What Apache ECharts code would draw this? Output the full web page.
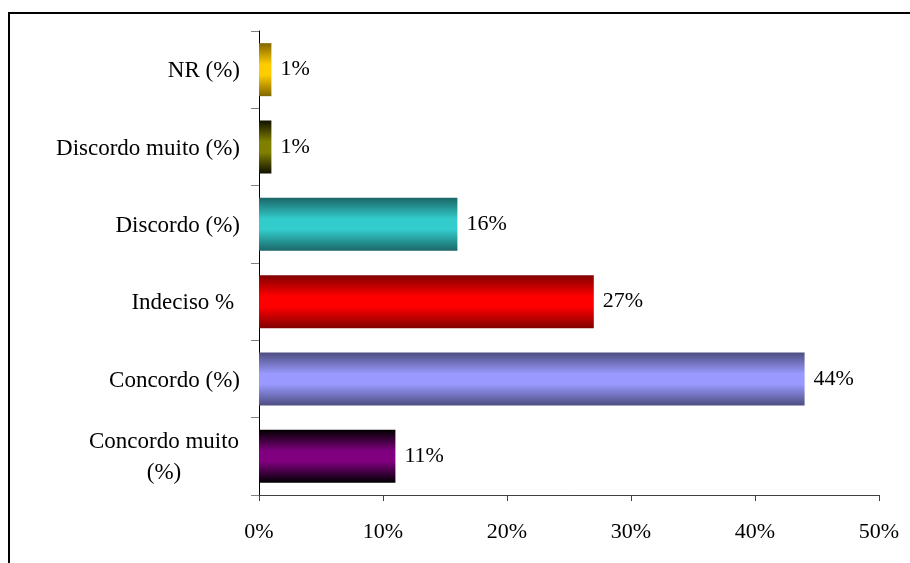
<!DOCTYPE html>
<html><head><meta charset="utf-8">
<script src="https://cdn.jsdelivr.net/npm/echarts@6/dist/echarts.min.js"></script>
<style>html,body{margin:0;padding:0;background:#fff}#c{width:910px;height:563px}</style>
</head><body><div id="c"></div>
<script>
const categories = ['Concordo muito\n(%)', 'Concordo (%)', 'Indeciso % ', 'Discordo (%)', 'Discordo muito (%)', 'NR (%)'];
const values = [11, 44, 27, 16, 1, 1];
const midColors = ['#800080', '#9999FF', '#FF0000', '#33CCCC', '#808000', '#FFCC00'];
const edgeColors = ['#000000', '#4D4D80', '#800000', '#1A6666', '#101000', '#806600'];
const xTicks = [0, 10, 20, 30, 40, 50];

function grad(i) {
  return new echarts.graphic.LinearGradient(0, 0, 0, 1, [
    {offset: 0, color: edgeColors[i]},
    {offset: 0.4, color: midColors[i]},
    {offset: 0.6, color: midColors[i]},
    {offset: 1, color: edgeColors[i]}
  ]);
}
const chart = echarts.init(document.getElementById('c'));
const font = '"Liberation Serif", "Times New Roman", serif';
chart.setOption({
  animation: false,
  backgroundColor: '#fff',
  textStyle: {fontFamily: font},
  graphic: [{type: 'rect', shape: {x: 9, y: 13, width: 1000, height: 1000}, style: {fill: 'none', stroke: '#000', lineWidth: 2}, z: 100}],
  grid: {left: 259, top: 31, right: 31, bottom: 68},
  xAxis: {
    type: 'value', min: xTicks[0], max: xTicks[xTicks.length - 1], interval: 10,
    axisLine: {show: true, lineStyle: {color: '#404040', width: 1}},
    axisTick: {show: true, length: 6, lineStyle: {color: '#404040'}},
    splitLine: {show: false},
    axisLabel: {formatter: v => v + '%', fontFamily: font, fontSize: 22, color: '#000', margin: 26}
  },
  yAxis: {
    type: 'category', data: categories,
    axisLine: {show: true, lineStyle: {color: '#000', width: 1}},
    axisTick: {show: true, length: 8, lineStyle: {color: '#808080'}},
    axisLabel: {
      fontFamily: font, fontSize: 23, color: '#000', margin: 19, lineHeight: 31, align: 'right', padding: [3, 0, 0, 0],
      formatter: v => v.indexOf('\n') >= 0 ? v.split('\n').map(s => '{c|' + s + '}').join('\n') : v,
      rich: {c: {fontFamily: font, fontSize: 23, color: '#000', lineHeight: 31, width: 152, align: 'center'}}
    }
  },
  series: [{
    type: 'bar',
    barWidth: 53,
    data: values.map((v, i) => ({value: v, itemStyle: {color: grad(i)}})),
    label: {show: true, position: 'right', distance: 9, formatter: p => p.value + '%', fontFamily: font, fontSize: 22, color: '#000'}
  }]
});
</script></body></html>
